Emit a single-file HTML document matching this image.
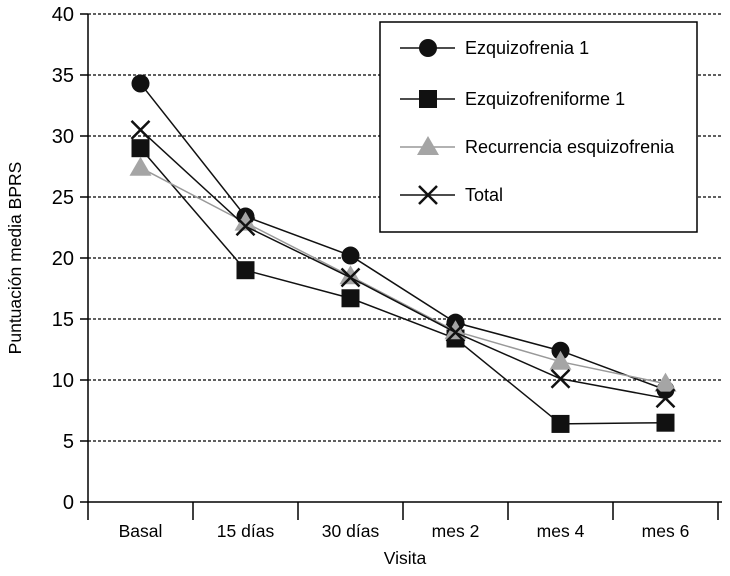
<!DOCTYPE html>
<html><head><meta charset="utf-8"><style>body{margin:0;background:#fff}svg{font-family:"Liberation Sans",sans-serif}</style></head>
<body>
<svg id="c" width="730" height="571"></svg>
<script>
const categories=["Basal","15 días","30 días","mes 2","mes 4","mes 6"];
const yTicks=[0,5,10,15,20,25,30,35,40];
const seriesNames=["Ezquizofrenia 1","Ezquizofreniforme 1","Recurrencia esquizofrenia","Total"];
const ezq1=[34.3,23.4,20.2,14.7,12.4,9.2];
const ezqf=[29.0,19.0,16.7,13.4,6.4,6.5];
const recur=[27.4,22.9,18.5,14.0,11.5,9.7];
const total=[30.5,22.6,18.4,13.9,10.1,8.5];
const NS="http://www.w3.org/2000/svg";
const svg=document.getElementById('c');
const L=88,R=722,T=14,B=502,bw=105;
const x=i=>L+bw*(i+0.5);
const y=v=>B-(B-T)*v/40;
function mk(t,a,p){const e=document.createElementNS(NS,t);for(const k in a)e.setAttribute(k,a[k]);(p||svg).appendChild(e);return e;}
yTicks.forEach(v=>{
  if(v>0){const g=mk('line',{x1:L,x2:R,y1:y(v),y2:y(v),stroke:'#000','stroke-width':1.2,'stroke-dasharray':'3,2'});
  
  }
  const tk=mk('line',{x1:L-8,x2:L,y1:y(v),y2:y(v),stroke:'#000','stroke-width':1.5});
  
  
  const t=mk('text',{x:L-14,y:y(v)+7,'text-anchor':'end','font-size':20});t.textContent=v;
  
  
});
const ax=mk('path',{d:`M${L} ${T}V${B}H${R}`,fill:'none',stroke:'#000','stroke-width':1.5});


for(let i=0;i<=categories.length;i++){
  const tk=mk('line',{x1:L+bw*i,x2:L+bw*i,y1:B,y2:B+18,stroke:'#000','stroke-width':1.5});
  
  
}
categories.forEach((c,i)=>{const t=mk('text',{x:x(i),y:537,'text-anchor':'middle','font-size':17.5});t.textContent=c;
  
  });
const xt=mk('text',{x:405,y:564,'text-anchor':'middle','font-size':17.5});xt.textContent='Visita';


const yt=mk('text',{x:0,y:0,'text-anchor':'middle','font-size':17.5,transform:'translate(21,258) rotate(-90)'});yt.textContent='Puntuación media BPRS';


function marker(type,cx,cy,g){
  if(type==0)mk('circle',{cx,cy,r:9,fill:'#111'},g);
  else if(type==1)mk('rect',{x:cx-9,y:cy-9,width:18,height:18,fill:'#111'},g);
  else if(type==2)mk('path',{d:`M${cx} ${cy-11}L${cx+11} ${cy+8}H${cx-11}Z`,fill:'#a5a5a5'},g);
  else mk('path',{d:`M${cx-9} ${cy-9}L${cx+9} ${cy+9}M${cx+9} ${cy-9}L${cx-9} ${cy+9}`,stroke:'#111','stroke-width':2.5},g);
}
const all=[ezq1,ezqf,recur,total];const cols=['#111','#111','#999','#111'];
all.forEach((s,k)=>{
  const g=mk('g',{});
  
  
  mk('polyline',{points:s.map((v,i)=>x(i)+','+y(v)).join(' '),fill:'none',stroke:cols[k],'stroke-width':1.5},g);
  s.forEach((v,i)=>marker(k,x(i),y(v),g));
});
const lg=mk('g',{});


mk('rect',{x:380,y:22,width:317,height:210,fill:'#fff',stroke:'#000','stroke-width':1.5},lg);
const ly=[48,99,147,195];
seriesNames.forEach((n,k)=>{
  const e=mk('g',{},lg);
  
  
  mk('line',{x1:400,x2:455,y1:ly[k],y2:ly[k],stroke:cols[k],'stroke-width':1.5},e);
  marker(k,428,ly[k],e);
  const t=mk('text',{x:465,y:ly[k]+6,'font-size':18},e);t.textContent=n;
});
</script>
</body></html>
